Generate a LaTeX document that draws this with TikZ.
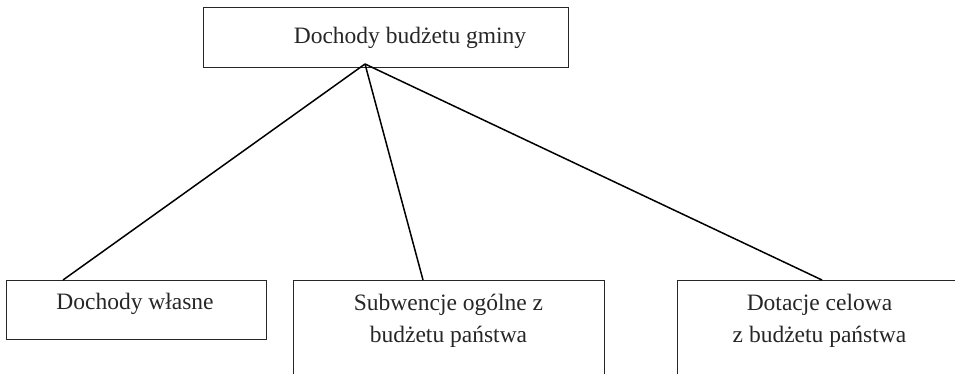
\documentclass[tikz,border=0pt]{standalone}
\usepackage{fontspec}
\setmainfont{Liberation Serif}
\begin{document}
\begin{tikzpicture}[x=1pt,y=-1pt,
  boxstyle/.style={draw=black!85,line width=1.4pt,rectangle,inner sep=0pt,anchor=north west},
  lbl/.style={font=\fontsize{23.5}{32}\selectfont,align=center,text=black!85,inner sep=0pt},
  conn/.style={draw=black,line width=1.5pt}]
\useasboundingbox (0,0) rectangle (955,373);
\clip (0,0) rectangle (955,373);
\node[boxstyle,minimum width=365pt,minimum height=60pt] (top) at (203,7) {};
\node[lbl] (toptxt) at (410,38) {Dochody budżetu gminy};
\node[boxstyle,minimum width=260pt,minimum height=59pt] (left) at (6,280) {};
\node[lbl] (lefttxt) at (135,304) {Dochody własne};
\node[boxstyle,minimum width=311pt,minimum height=130pt] (mid) at (293,280) {};
\node[lbl,anchor=north] (midtxt) at (448.5,294) {Subwencje ogólne z\\budżetu państwa};
\node[boxstyle,minimum width=300pt,minimum height=130pt] (right) at (677,280) {};
\node[lbl,anchor=north] (righttxt) at (819.5,294) {Dotacje celowa\\z budżetu państwa};
\coordinate (apex) at (365,64);
\coordinate (a1) at (63,280);
\coordinate (a2) at (423,280);
\coordinate (a3) at (822,280);
\draw[conn] (apex) -- (a1);
\draw[conn] (apex) -- (a2);
\draw[conn] (apex) -- (a3);
\end{tikzpicture}
\end{document}
